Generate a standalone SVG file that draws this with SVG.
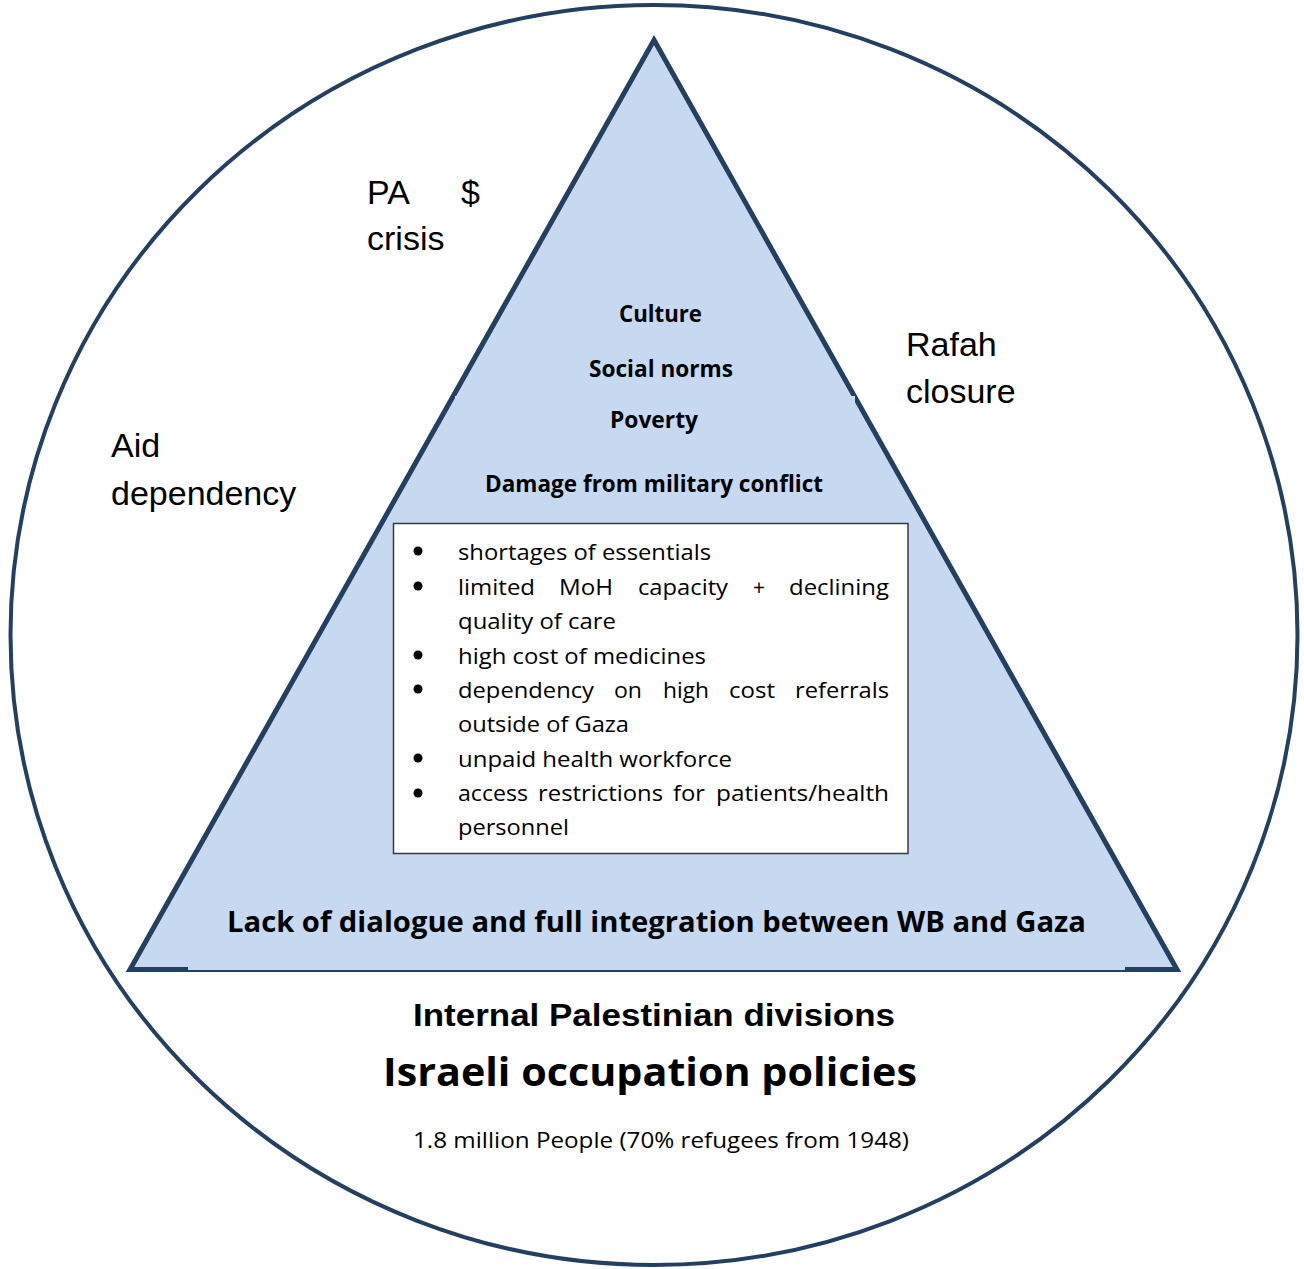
<svg xmlns="http://www.w3.org/2000/svg" width="1304" height="1269" viewBox="0 0 1304 1269">
<style>
.frame{fill:#ffffff;stroke:#243f60;stroke-width:4}
.tri{fill:#c6d9f1;stroke:#243f60;stroke-width:5;stroke-linejoin:miter}
.cover{fill:#c6d9f1;stroke:none}
.box{fill:#ffffff;stroke:#3a3a3a;stroke-width:1.5}
.cal{font-family:"Open Sans","Noto Sans",sans-serif;fill:#000}
.calb{font-family:"Open Sans","Noto Sans",sans-serif;font-weight:bold;fill:#000}
.ar{font-family:"Liberation Sans",Arial,sans-serif;fill:#000}
.arb{font-family:"Liberation Sans",Arial,sans-serif;font-weight:bold;fill:#000}
.li{font-size:22px}
.dot{fill:#000}
</style>
<rect width="1304" height="1269" fill="#ffffff"/>
<g id="context-circle">
<ellipse class="frame" cx="654" cy="635" rx="643.5" ry="630"/>
</g>
<g id="triangle">
<polygon class="tri" points="654,40 1177,969.5 130,969.5"/>
<rect class="cover" x="455" y="396" width="400" height="90"/>
<rect class="cover" x="188" y="900" width="937" height="70"/>
</g>
<g id="outer-labels">
<g id="pa-crisis">
<text class="ar" font-size="34" x="367" y="204">PA</text>
<text class="ar" font-size="34" x="461" y="204">$</text>
<text class="ar" font-size="34" x="367" y="250">crisis</text>
</g>
<g id="rafah-closure">
<text class="ar" font-size="34" x="906" y="356">Rafah</text>
<text class="ar" font-size="34" x="906" y="403">closure</text>
</g>
<g id="aid-dependency">
<text class="ar" font-size="34" x="111" y="457">Aid</text>
<text class="ar" font-size="34" x="111" y="505">dependency</text>
</g>
</g>
<g id="inner-factors">
<text class="calb" font-size="22.5" x="619" y="322" textLength="83" lengthAdjust="spacingAndGlyphs">Culture</text>
<text class="calb" font-size="22.5" x="589" y="377" textLength="144" lengthAdjust="spacingAndGlyphs">Social norms</text>
<text class="calb" font-size="22.5" x="610" y="428" textLength="88" lengthAdjust="spacingAndGlyphs">Poverty</text>
<text class="calb" font-size="22.5" x="485" y="492" textLength="338" lengthAdjust="spacingAndGlyphs">Damage from military conflict</text>
</g>
<g id="impacts-box">
<rect class="box" x="393.5" y="523.5" width="514.5" height="330"/>
<g class="dot">
<circle cx="418" cy="551" r="4.5"/>
<circle cx="418" cy="586" r="4.5"/>
<circle cx="418" cy="655" r="4.5"/>
<circle cx="418" cy="689" r="4.5"/>
<circle cx="418" cy="758" r="4.5"/>
<circle cx="418" cy="793" r="4.5"/>
</g>
<g class="cal li">
<text x="458" y="560" textLength="253" lengthAdjust="spacingAndGlyphs">shortages of essentials</text>
<text x="458" y="595" textLength="77" lengthAdjust="spacingAndGlyphs">limited</text>
<text x="559" y="595" textLength="54" lengthAdjust="spacingAndGlyphs">MoH</text>
<text x="638" y="595" textLength="90" lengthAdjust="spacingAndGlyphs">capacity</text>
<text x="753" y="595" textLength="12" lengthAdjust="spacingAndGlyphs">+</text>
<text x="789" y="595" textLength="100" lengthAdjust="spacingAndGlyphs">declining</text>
<text x="458" y="629" textLength="158" lengthAdjust="spacingAndGlyphs">quality of care</text>
<text x="458" y="664" textLength="248" lengthAdjust="spacingAndGlyphs">high cost of medicines</text>
<text x="458" y="698" textLength="136" lengthAdjust="spacingAndGlyphs">dependency</text>
<text x="614" y="698" textLength="28" lengthAdjust="spacingAndGlyphs">on</text>
<text x="663" y="698" textLength="46" lengthAdjust="spacingAndGlyphs">high</text>
<text x="729" y="698" textLength="46" lengthAdjust="spacingAndGlyphs">cost</text>
<text x="795" y="698" textLength="94" lengthAdjust="spacingAndGlyphs">referrals</text>
<text x="458" y="732" textLength="171" lengthAdjust="spacingAndGlyphs">outside of Gaza</text>
<text x="458" y="767" textLength="274" lengthAdjust="spacingAndGlyphs">unpaid health workforce</text>
<text x="458" y="801" textLength="70" lengthAdjust="spacingAndGlyphs">access</text>
<text x="538" y="801" textLength="125" lengthAdjust="spacingAndGlyphs">restrictions</text>
<text x="673" y="801" textLength="32" lengthAdjust="spacingAndGlyphs">for</text>
<text x="716" y="801" textLength="173" lengthAdjust="spacingAndGlyphs">patients/health</text>
<text x="458" y="835" textLength="111" lengthAdjust="spacingAndGlyphs">personnel</text>
</g>
</g>
<g id="integration">
<text class="calb" font-size="28" x="227" y="932" textLength="859" lengthAdjust="spacingAndGlyphs">Lack of dialogue and full integration between WB and Gaza</text>
</g>
<g id="bottom-labels">
<text class="arb" font-size="32" x="413" y="1026" textLength="482" lengthAdjust="spacingAndGlyphs">Internal Palestinian divisions</text>
<text class="calb" font-size="39" x="383" y="1086" textLength="534" lengthAdjust="spacingAndGlyphs">Israeli occupation policies</text>
<text class="cal" font-size="22" x="413" y="1148" textLength="496" lengthAdjust="spacingAndGlyphs">1.8 million People (70% refugees from 1948)</text>
</g>
<g id="connectors"></g>
</svg>
